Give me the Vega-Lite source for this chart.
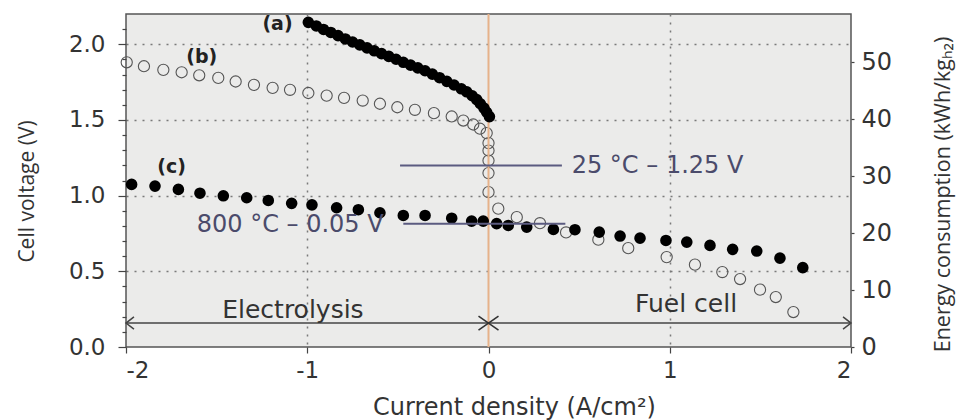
{
  "$schema": "https://vega.github.io/schema/vega-lite/v6.json",
  "width": 725,
  "height": 333,
  "autosize": {"type": "none"},
  "padding": {"left": 126, "top": 14, "right": 108, "bottom": 73},
  "background": "white",
  "config": {
    "font": "DejaVu Sans",
    "view": {"fill": "#ebebea", "stroke": "#555555", "strokeWidth": 1.5},
    "axis": {
      "labelFont": "DejaVu Sans",
      "titleFont": "Open Sans",
      "labelColor": "#333333",
      "titleColor": "#333333",
      "titleFontWeight": "normal",
      "labelOverlap": false,
      "domain": false,
      "tickColor": "#444444",
      "tickWidth": 1.2,
      "gridColor": "#7a7a7a",
      "gridDash": [2, 6],
      "gridWidth": 1.5
    }
  },
  "datasets": {
    "a": [
      {"j": -0.994, "v": 2.145}, {"j": -0.95, "v": 2.121}, {"j": -0.91, "v": 2.098}, {"j": -0.87, "v": 2.078},
      {"j": -0.83, "v": 2.057}, {"j": -0.79, "v": 2.035}, {"j": -0.75, "v": 2.015}, {"j": -0.71, "v": 1.996},
      {"j": -0.67, "v": 1.976}, {"j": -0.63, "v": 1.957}, {"j": -0.59, "v": 1.938}, {"j": -0.55, "v": 1.920},
      {"j": -0.51, "v": 1.901}, {"j": -0.47, "v": 1.881}, {"j": -0.43, "v": 1.862}, {"j": -0.39, "v": 1.844},
      {"j": -0.35, "v": 1.825}, {"j": -0.31, "v": 1.803}, {"j": -0.27, "v": 1.779}, {"j": -0.23, "v": 1.755},
      {"j": -0.19, "v": 1.731}, {"j": -0.15, "v": 1.706}, {"j": -0.12, "v": 1.686}, {"j": -0.09, "v": 1.660},
      {"j": -0.065, "v": 1.635}, {"j": -0.045, "v": 1.607}, {"j": -0.025, "v": 1.578}, {"j": -0.01, "v": 1.551},
      {"j": 0.005, "v": 1.522}
    ],
    "b": [
      {"j": -1.996, "v": 1.881}, {"j": -1.901, "v": 1.855}, {"j": -1.794, "v": 1.831}, {"j": -1.693, "v": 1.815},
      {"j": -1.596, "v": 1.795}, {"j": -1.491, "v": 1.778}, {"j": -1.395, "v": 1.754}, {"j": -1.294, "v": 1.732},
      {"j": -1.191, "v": 1.712}, {"j": -1.095, "v": 1.699}, {"j": -0.994, "v": 1.678}, {"j": -0.893, "v": 1.661},
      {"j": -0.797, "v": 1.646}, {"j": -0.694, "v": 1.628}, {"j": -0.599, "v": 1.607}, {"j": -0.503, "v": 1.584},
      {"j": -0.406, "v": 1.567}, {"j": -0.301, "v": 1.545}, {"j": -0.203, "v": 1.523}, {"j": -0.139, "v": 1.496},
      {"j": -0.084, "v": 1.470}, {"j": -0.047, "v": 1.442}, {"j": -0.010, "v": 1.413}, {"j": 0.0, "v": 1.347},
      {"j": 0.0, "v": 1.298}, {"j": 0.0, "v": 1.232}, {"j": 0.0, "v": 1.149}, {"j": 0.0, "v": 1.023},
      {"j": 0.054, "v": 0.914}, {"j": 0.156, "v": 0.858}, {"j": 0.284, "v": 0.818}, {"j": 0.428, "v": 0.757},
      {"j": 0.606, "v": 0.709}, {"j": 0.771, "v": 0.653}, {"j": 0.983, "v": 0.594}, {"j": 1.139, "v": 0.544},
      {"j": 1.290, "v": 0.495}, {"j": 1.388, "v": 0.449}, {"j": 1.498, "v": 0.379}, {"j": 1.585, "v": 0.330},
      {"j": 1.682, "v": 0.231}
    ],
    "c": [
      {"j": -1.969, "v": 1.074}, {"j": -1.840, "v": 1.063}, {"j": -1.711, "v": 1.041}, {"j": -1.592, "v": 1.016},
      {"j": -1.463, "v": 0.999}, {"j": -1.334, "v": 0.986}, {"j": -1.215, "v": 0.968}, {"j": -1.086, "v": 0.949},
      {"j": -0.974, "v": 0.939}, {"j": -0.838, "v": 0.920}, {"j": -0.718, "v": 0.907}, {"j": -0.599, "v": 0.887},
      {"j": -0.470, "v": 0.869}, {"j": -0.350, "v": 0.869}, {"j": -0.203, "v": 0.851}, {"j": -0.093, "v": 0.832},
      {"j": -0.029, "v": 0.832}, {"j": 0.045, "v": 0.815}, {"j": 0.109, "v": 0.803}, {"j": 0.211, "v": 0.792},
      {"j": 0.358, "v": 0.777}, {"j": 0.477, "v": 0.775}, {"j": 0.611, "v": 0.759}, {"j": 0.726, "v": 0.733},
      {"j": 0.836, "v": 0.719}, {"j": 0.979, "v": 0.704}, {"j": 1.094, "v": 0.693}, {"j": 1.222, "v": 0.671},
      {"j": 1.347, "v": 0.645}, {"j": 1.480, "v": 0.634}, {"j": 1.608, "v": 0.587}, {"j": 1.734, "v": 0.524}
    ],
    "refs": [
      {"j": -0.488, "j2": 0.405, "v": 1.199},
      {"j": -0.470, "j2": 0.424, "v": 0.815}
    ],
    "arrow": [{"j": -2, "j2": 2, "v": 0.158}],
    "arrowR": [{"j": 2, "v": 0.158}],
    "cross": [{"j": 0, "v": 0.158}],
    "zero": [{"j": 0, "v": 0, "v2": 2.2}],
    "letters": [
      {"j": -1.164, "v": 2.135, "label": "(a)"},
      {"j": -1.582, "v": 1.914, "label": "(b)"},
      {"j": -1.748, "v": 1.188, "label": "(c)"}
    ],
    "notes": [
      {"j": 0.459, "v": 1.199, "label": "25 °C – 1.25 V"},
      {"j": -1.61, "v": 0.803, "label": "800 °C – 0.05 V"}
    ],
    "modes": [
      {"j": -1.079, "v": 0.242, "label": "Electrolysis"},
      {"j": 1.090, "v": 0.283, "label": "Fuel cell"}
    ],
    "energy": [{"e": 0}, {"e": 58.5}],
    "minor": [{"m": 0}, {"m": 2.2}]
  },
  "layer": [
    {
      "encoding": {
        "x": {
          "field": "j", "type": "quantitative",
          "scale": {"domain": [-2, 2], "nice": false, "zero": false},
          "title": "Current density (A/cm²)",
          "axis": {
            "values": [-2, -1, 0, 1, 2],
            "labelExpr": "toString(datum.value)",
            "labelFontSize": 23,
            "labelPadding": 6,
            "tickSize": 6,
            "grid": true,
            "gridOpacity": {"condition": {"test": "datum.value == -1 || datum.value == 1", "value": 1}, "value": 0},
            "titleFont": "DejaVu Sans",
            "titleFontSize": 24,
            "titleX": 388,
            "titleY": 60,
            "titleBaseline": "middle",
            "titleAlign": "center"
          }
        },
        "y": {
          "field": "v", "type": "quantitative",
          "scale": {"domain": [0, 2.2], "nice": false},
          "title": "Cell voltage (V)",
          "axis": {
            "values": [0, 0.5, 1, 1.5, 2],
            "format": ".1f",
            "labelFontSize": 23,
            "labelPadding": 13,
            "tickSize": 8,
            "grid": true,
            "gridOpacity": {"condition": {"test": "datum.value > 0", "value": 1}, "value": 0},
            "titleFontSize": 21,
            "titleAngle": 270,
            "titleX": -99,
            "titleY": 177,
            "titleBaseline": "middle",
            "titleAlign": "center"
          }
        }
      },
      "layer": [
        {
          "data": {"name": "b"},
          "mark": {"type": "point", "filled": false, "stroke": "#555555", "strokeWidth": 1.1, "size": 125, "opacity": 1}
        },
        {
          "data": {"name": "zero"},
          "mark": {"type": "rule", "color": "#e6b28a", "strokeWidth": 2},
          "encoding": {"y2": {"field": "v2"}}
        },
        {
          "data": {"name": "a"},
          "mark": {"type": "point", "filled": true, "color": "#000000", "size": 135, "opacity": 1}
        },
        {
          "data": {"name": "c"},
          "mark": {"type": "point", "filled": true, "color": "#000000", "size": 135, "opacity": 1}
        },
        {
          "data": {"name": "refs"},
          "mark": {"type": "rule", "color": "#5b5b80", "strokeWidth": 2},
          "encoding": {"x2": {"field": "j2"}}
        },
        {
          "data": {"name": "arrow"},
          "mark": {"type": "rule", "color": "#444444", "strokeWidth": 1.5},
          "encoding": {"x2": {"field": "j2"}}
        },
        {
          "data": {"name": "arrow"},
          "mark": {"type": "point", "shape": "M1.3,-1L0,0L1.3,1", "filled": false, "stroke": "#444444", "strokeWidth": 1.5, "size": 150, "opacity": 1}
        },
        {
          "data": {"name": "arrowR"},
          "mark": {"type": "point", "shape": "M-1.3,-1L0,0L-1.3,1", "filled": false, "stroke": "#444444", "strokeWidth": 1.5, "size": 150, "opacity": 1}
        },
        {
          "data": {"name": "cross"},
          "mark": {"type": "point", "shape": "M-1,-0.7L1,0.7M-1,0.7L1,-0.7", "filled": false, "stroke": "#333333", "strokeWidth": 1.6, "size": 400, "opacity": 1}
        },
        {
          "data": {"name": "letters"},
          "mark": {"type": "text", "fontSize": 19, "fontWeight": "bold", "color": "#222222", "align": "center", "baseline": "middle", "font": "DejaVu Sans"},
          "encoding": {"text": {"field": "label"}}
        },
        {
          "data": {"name": "notes"},
          "mark": {"type": "text", "fontSize": 24, "color": "#4b4b6b", "align": "left", "baseline": "middle", "font": "DejaVu Sans"},
          "encoding": {"text": {"field": "label"}}
        },
        {
          "data": {"name": "modes"},
          "mark": {"type": "text", "fontSize": 25, "color": "#333333", "align": "center", "baseline": "middle", "font": "DejaVu Sans"},
          "encoding": {"text": {"field": "label"}}
        }
      ]
    },
    {
      "data": {"name": "energy"},
      "mark": {"type": "point", "opacity": 0},
      "encoding": {
        "y": {
          "field": "e", "type": "quantitative",
          "scale": {"domain": [0, 58.5], "nice": false},
          "title": "Energy consumption (kWh/kgₕ₂)",
          "axis": {
            "orient": "right",
            "values": [0, 10, 20, 30, 40, 50],
            "labelFontSize": 24,
            "labelPadding": 7,
            "tickSize": 3,
            "grid": false,
            "titleFontSize": 21.5,
            "titleAngle": 270,
            "titleX": 92,
            "titleY": 180,
            "titleBaseline": "middle",
            "titleAlign": "center"
          }
        }
      }
    },
    {
      "data": {"name": "minor"},
      "mark": {"type": "point", "opacity": 0},
      "encoding": {
        "y": {
          "field": "m", "type": "quantitative",
          "scale": {"domain": [0, 2.2], "nice": false},
          "axis": {
            "orient": "left",
            "values": [0.1, 0.2, 0.3, 0.4, 0.6, 0.7, 0.8, 0.9, 1.1, 1.2, 1.3, 1.4, 1.6, 1.7, 1.8, 1.9, 2.1],
            "labels": false,
            "tickSize": 4,
            "grid": false,
            "title": null
          }
        }
      }
    }
  ],
  "resolve": {"scale": {"y": "independent"}}
}
